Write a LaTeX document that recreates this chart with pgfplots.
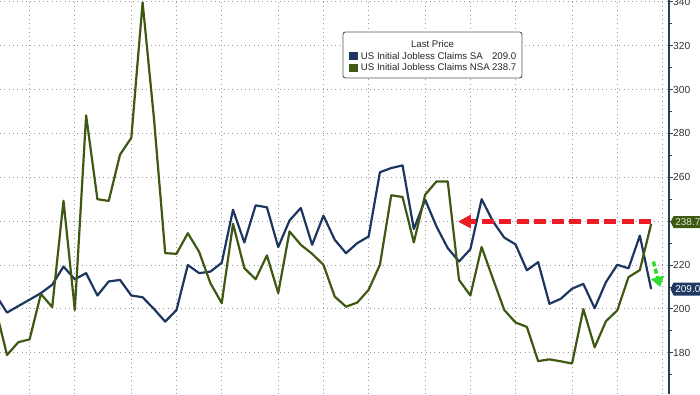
\documentclass[border=0pt]{standalone}
\usepackage{fontspec}
\setmainfont{Liberation Sans}
\usepackage{pgfplots}
\pgfplotsset{compat=1.18}
\usetikzlibrary{arrows.meta}
\definecolor{sa}{HTML}{1D3660}
\definecolor{nsa}{HTML}{3F5812}
\definecolor{satag}{HTML}{1E3A62}
\definecolor{nsatag}{HTML}{3E5A10}
\definecolor{axisc}{HTML}{2E3D52}
\definecolor{tickc}{HTML}{333333}
\definecolor{redarrow}{HTML}{EC1C24}
\definecolor{greenarrow}{HTML}{2EDB2E}
\definecolor{gridc}{HTML}{9A9A9A}
\begin{document}
\begin{tikzpicture}[x=1bp,y=1bp]
\useasboundingbox (0,0) rectangle (700,394);
\begin{axis}[
  at={(0,0)}, anchor=south west, scale only axis,
  width=669bp, height=394bp,
  xmin=-0.62, xmax=58.58, ymin=161.2, ymax=340.8,
  axis line style={draw=none},
  xtick={2,6,11,15,19,24,28,32,37,41,45,50,54,58},
  xticklabel=\empty,
  x tick style={draw=none},
  ytick={160,180,200,220,240,260,280,300,320,340},
  yticklabels={160,180,200,220,,260,280,300,320,340},
  minor ytick={170,190,...,330},
  ytick pos=right, yticklabel pos=right,
  tick align=outside,
  major tick length=4bp, minor tick length=2.5bp,
  y tick style={axisc, line width=0.8bp},
  xmajorgrids, ymajorgrids,
  major grid style={gridc, line width=0.9bp, dash pattern=on 0.9bp off 3.4bp},
  yticklabel style={font=\fontsize{10.3}{12}\selectfont, text=tickc, anchor=west, inner sep=0pt},
]
\addplot[sa, line width=2.2bp, line join=round] coordinates {
(-1,206.4) (0,198.3) (1,201.3) (2,204.2) (3,207.2) (4,211.0) (5,219.3) (6,213.5) (7,216.3) (8,206.1)
(9,212.5) (10,213.2) (11,206.1) (12,205.3) (13,200.0) (14,194.2) (15,199.5) (16,220.0) (17,216.3) (18,217.0)
(19,221.0) (20,245.2) (21,230.3) (22,247.2) (23,246.3) (24,228.2) (25,240.3) (26,246.0) (27,229.2) (28,242.5)
(29,231.5) (30,225.4) (31,230.0) (32,233.0) (33,262.3) (34,264.2) (35,265.4) (36,236.4) (37,249.8) (38,237.6)
(39,227.7) (40,221.6) (41,227.2) (42,250.0) (43,239.9) (44,232.5) (45,229.4) (46,217.6) (47,221.3) (48,202.3)
(49,204.6) (50,209.2) (51,211.4) (52,200.3) (53,212.2) (54,220.1) (55,218.5) (56,233.4) (57,209.0)
};
\addplot[nsa, line width=2.2bp, line join=round] coordinates {
(-1,200.0) (0,179.0) (1,184.8) (2,186.1) (3,206.8) (4,200.8) (5,249.3) (6,199.5) (7,288.2) (8,250.0)
(9,249.2) (10,270.3) (11,278.0) (12,339.7) (13,287.0) (14,225.4) (15,225.1) (16,234.5) (17,226.0) (18,211.7)
(19,202.6) (20,238.8) (21,218.6) (22,213.5) (23,224.4) (24,207.2) (25,235.3) (26,229.2) (27,225.1) (28,220.1)
(29,205.6) (30,201.0) (31,202.9) (32,208.7) (33,220.1) (34,251.8) (35,251.0) (36,230.3) (37,252.0) (38,258.1)
(39,258.1) (40,213.2) (41,206.1) (42,228.2) (43,213.7) (44,199.5) (45,193.8) (46,191.8) (47,176.2) (48,177.0)
(49,176.1) (50,175.1) (51,199.9) (52,182.5) (53,194.4) (54,199.3) (55,214.5) (56,217.7) (57,238.7)
};
\addplot[redarrow, line width=4.6bp, dash pattern=on 12bp off 5.5bp, -{Triangle[length=13bp,width=13bp]}]
  coordinates {(57,239.8) (39.9,239.8)};
\addplot[greenarrow, line width=3.5bp, dash pattern=on 5bp off 2.5bp, -{Triangle[length=10bp,width=13bp]}]
  coordinates {(57.19,221.6) (57.79,210.0)};
\end{axis}
% right axis line
\draw[axisc, line width=1.2bp] (669,0) -- (669,394);
% legend
\draw[draw=gray!70!black, line width=0.9bp, fill=white, rounded corners=2.5bp] (343,316) rectangle (522,362);
\node[font=\fontsize{9.7}{11}\selectfont, text=black!85, inner sep=0pt] at (432.5,350) {Last Price};
\fill[sa] (349.3,334) rectangle (357.7,342);
\fill[nsa] (349.3,322.5) rectangle (357.7,330.5);
\node[anchor=west, inner sep=0pt, font=\fontsize{9.7}{11}\selectfont, text=black!85] at (360.7,338) {US Initial Jobless Claims SA};
\node[anchor=east, inner sep=0pt, font=\fontsize{9.7}{11}\selectfont, text=black!85] at (516.5,338) {209.0};
\node[anchor=west, inner sep=0pt, font=\fontsize{9.7}{11}\selectfont, text=black!85] at (360.7,326.5) {US Initial Jobless Claims NSA};
\node[anchor=east, inner sep=0pt, font=\fontsize{9.7}{11}\selectfont, text=black!85] at (516.5,326.5) {238.7};
% value tags
\fill[nsatag] (670.5,172) -- (673.5,178) -- (703,178) -- (703,166) -- (673.5,166) -- cycle;
\node[anchor=west, inner sep=0pt, text=white!88!black, font=\fontsize{10}{12}\selectfont] at (675.2,172) {238.7};
\fill[satag] (670.5,105) -- (673.5,111.5) -- (703,111.5) -- (703,98.5) -- (673.5,98.5) -- cycle;
\node[anchor=west, inner sep=0pt, text=white, font=\fontsize{10}{12}\selectfont] at (675.2,105) {209.0};
\end{tikzpicture}
\end{document}
